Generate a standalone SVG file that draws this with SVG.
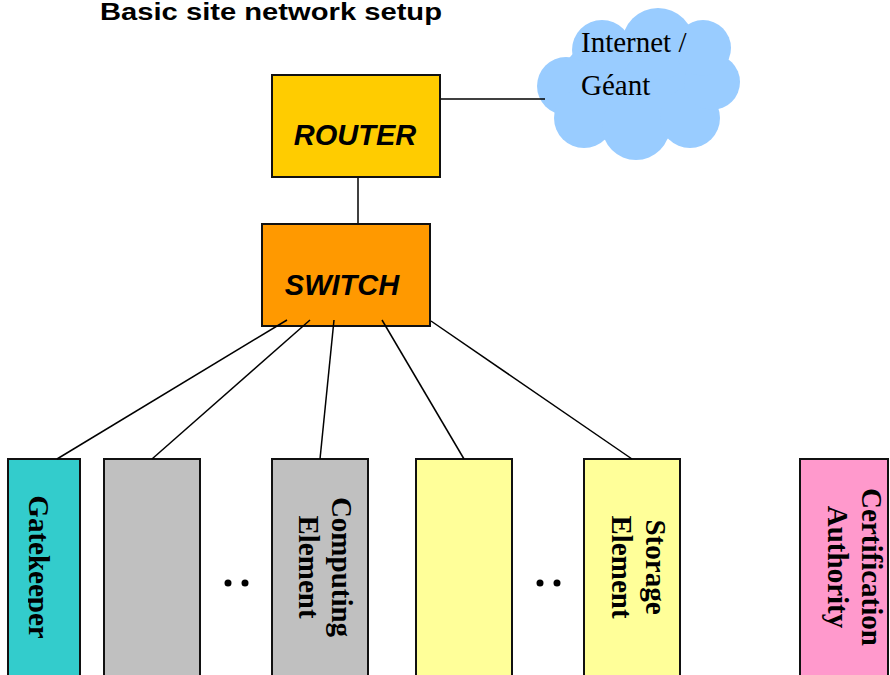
<svg xmlns="http://www.w3.org/2000/svg" width="890" height="675" viewBox="0 0 890 675">
<defs>
<style>
.box{stroke:#111;stroke-width:2}
.conn{stroke:#000;stroke-width:1.5;fill:none}
.lbl{font-family:"Liberation Sans",Arial,sans-serif;font-weight:bold;font-style:italic;font-size:29px;fill:#000;text-anchor:middle}
.vt{font-family:"Liberation Serif","Times New Roman",serif;font-weight:bold;font-size:29px;fill:#000;text-anchor:middle}
.cl{font-family:"Liberation Serif","Times New Roman",serif;font-size:29px;fill:#000}
.dot{fill:#000}
</style>
<clipPath id="gkclip"><rect x="28" y="459" width="60" height="220"/></clipPath>
</defs>
<rect width="890" height="675" fill="#fff"/>
<text x="100" y="20" textLength="342" lengthAdjust="spacingAndGlyphs" style="font-family:'Liberation Sans',Arial,sans-serif;font-weight:bold;font-size:23px">Basic site network setup</text>

<g id="cloud">
<g fill="#99CCFF">
<ellipse cx="640" cy="86" rx="82" ry="56"/>
<circle cx="658" cy="44" r="36"/>
<circle cx="602" cy="50" r="30"/>
<circle cx="566" cy="86" r="29"/>
<circle cx="584" cy="118" r="30"/>
<circle cx="636" cy="126" r="34"/>
<circle cx="690" cy="118" r="30"/>
<circle cx="712" cy="82" r="28"/>
<circle cx="703" cy="48" r="28"/>
</g>
<text class="cl" x="581" y="52">Internet /</text>
<text class="cl" x="581" y="95">Géant</text>
</g>

<g id="connectors-top">
<line class="conn" x1="440" y1="99" x2="545" y2="99"/>
<line class="conn" x1="358" y1="177" x2="358" y2="224"/>
</g>

<g id="router">
<rect class="box" x="272" y="75" width="168" height="102" fill="#FFCC00"/>
<text class="lbl" x="355" y="145">ROUTER</text>
</g>

<g id="switch">
<rect class="box" x="262" y="224" width="168" height="102" fill="#FF9900"/>
<text class="lbl" x="342" y="295">SWITCH</text>
</g>

<g id="gatekeeper">
<rect class="box" x="8" y="459" width="72" height="230" fill="#33CCCC"/>
<g clip-path="url(#gkclip)">
<text class="vt" transform="translate(28.5,567) rotate(90)">Gatekeeper</text>
</g>
</g>

<g id="wn1">
<rect class="box" x="104" y="459" width="96" height="230" fill="#C0C0C0"/>
</g>

<g id="dots1">
<circle class="dot" cx="228" cy="583" r="3.5"/>
<circle class="dot" cx="245" cy="583" r="3.5"/>
</g>

<g id="computing-element">
<rect class="box" x="272" y="459" width="96" height="230" fill="#C0C0C0"/>
<text class="vt" transform="translate(332,567) rotate(90)">Computing</text>
<text class="vt" transform="translate(299,567) rotate(90)">Element</text>
</g>

<g id="se1">
<rect class="box" x="416" y="459" width="96" height="230" fill="#FFFF99"/>
</g>

<g id="dots2">
<circle class="dot" cx="540" cy="583" r="3.5"/>
<circle class="dot" cx="557" cy="583" r="3.5"/>
</g>

<g id="storage-element">
<rect class="box" x="584" y="459" width="96" height="230" fill="#FFFF99"/>
<text class="vt" transform="translate(646,567) rotate(90)">Storage</text>
<text class="vt" transform="translate(612,567) rotate(90)">Element</text>
</g>

<g id="certification-authority">
<rect class="box" x="800" y="459" width="88" height="230" fill="#FF99CC"/>
<text class="vt" transform="translate(862,567) rotate(90)">Certification</text>
<text class="vt" transform="translate(828,567) rotate(90)">Authority</text>
</g>

<g id="connectors">
<line class="conn" x1="287" y1="320" x2="57" y2="459"/>
<line class="conn" x1="310" y1="320" x2="152" y2="459"/>
<line class="conn" x1="334" y1="320" x2="320" y2="459"/>
<line class="conn" x1="382" y1="320" x2="464" y2="459"/>
<line class="conn" x1="431" y1="321" x2="632" y2="459"/>
</g>
</svg>
